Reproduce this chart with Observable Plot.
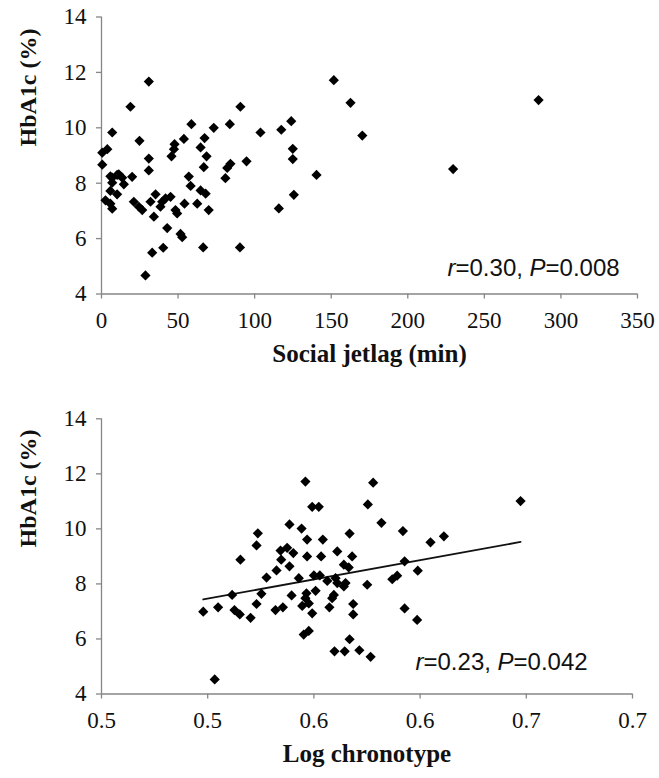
<!DOCTYPE html>
<html><head><meta charset="utf-8">
<script src="https://cdn.jsdelivr.net/npm/d3@7"></script>
<script src="https://cdn.jsdelivr.net/npm/@observablehq/plot@0.6"></script>
<style>
body{margin:0;background:#fff;}
#c{width:659px;}
svg{display:block;}
</style></head><body><div id="c"></div>
<script>
// ---- Top panel: social jetlag (min) vs HbA1c (%) ----
const jetlagMin = [30.9,18.9,90.7,7.0,58.7,73.3,83.8,103.8,24.8,53.8,
  47.7,67.3,64.7,47.3,3.8,0.5,45.7,68.6,30.9,0.5,
  94.7,84.2,82.1,66.8,30.9,11.3,7.0,20.0,57.0,80.9,
  5.8,10.2,13.5,7.0,14.6,58.2,5.8,10.2,35.3,45.1,
  64.7,68.0,2.6,5.8,7.0,21.1,24.4,26.6,32.0,39.6,
  41.8,38.5,48.3,49.4,54.2,62.5,70.0,34.2,42.9,51.6,
  52.7,33.1,40.3,66.4,90.4,28.7,151.7,162.6,123.9,117.4,
  170.3,124.9,124.9,140.4,229.6,125.6,115.8,285.4];
const hba1cTop = [11.67,10.76,10.76,9.83,10.13,10.0,10.13,9.83,9.53,9.6,
  9.41,9.63,9.29,9.23,9.23,9.1,8.97,8.97,8.89,8.67,
  8.79,8.7,8.55,8.58,8.46,8.32,8.2,8.23,8.24,8.18,
  8.25,8.3,8.2,8.02,7.96,7.9,7.72,7.6,7.6,7.51,
  7.74,7.62,7.38,7.26,7.08,7.33,7.15,7.03,7.33,7.33,
  7.45,7.15,7.03,6.91,7.26,7.26,7.03,6.79,6.38,6.17,
  6.05,5.49,5.67,5.68,5.68,4.67,11.72,10.9,10.24,9.93,
  9.72,9.24,8.87,8.3,8.51,7.58,7.09,11.0];

// ---- Bottom panel: log chronotype vs HbA1c (%) ----
const logChrono = [0.5460,0.5492,0.5523,0.5385,0.5442,0.5236,0.5468,0.5542,0.5230,0.5343,
  0.5374,0.5403,0.5154,0.5346,0.5468,0.5534,0.5610,0.5385,0.5324,0.5277,
  0.5641,0.5664,0.5429,0.5500,0.5528,0.5563,0.5602,0.5610,0.5649,0.5641,
  0.5751,0.5115,0.5253,0.5395,0.5465,0.5508,0.5460,0.5476,0.5594,0.5586,
  0.4979,0.5049,0.5126,0.5151,0.5202,0.5230,0.5319,0.5354,0.5445,
  0.5492,0.5573,0.5685,0.5685,0.5452,0.5476,0.5668,0.5597,0.5645,0.5714,0.5767,0.5033,
  0.5779,0.5754,0.6473,0.5818,0.5668,0.5919,0.6049,0.6112,0.5680,0.5927,
  0.5989,0.5869,0.5892,0.5927,0.5986];
const hba1cBottom = [11.72,10.80,10.80,10.16,10.01,9.84,9.61,9.61,9.40,9.21,
  9.31,9.12,8.88,8.88,9.00,9.00,9.18,8.64,8.49,8.23,
  8.70,8.60,8.21,8.31,8.31,8.11,8.21,8.03,8.03,7.91,
  7.97,7.60,7.64,7.58,7.66,7.75,7.48,7.29,7.60,7.48,
  6.99,7.15,7.05,6.89,6.77,7.27,7.05,7.15,7.20,
  6.93,7.15,7.27,6.89,6.16,6.29,5.99,5.55,5.55,5.59,5.35,4.53,
  11.68,10.89,11.01,10.22,9.83,9.92,9.51,9.73,9.00,8.82,
  8.48,8.17,8.30,7.11,6.69];

// ---- Axes / labels ----
const hbTicks = [4,6,8,10,12,14];
const jetlagTicks = [0,50,100,150,200,250,300,350];
const chronoTicks = [0.45,0.5,0.55,0.6,0.65,0.7];
const chronoTickLabels = ["0.5","0.5","0.6","0.6","0.7","0.7"];
const yTitle = "HbA1c (%)";
const topTitle = "Social jetlag (min)";
const bottomTitle = "Log chronotype";
const topStat = {r: "0.30", p: "0.008"};
const bottomStat = {r: "0.23", p: "0.042"};

const serif = "'Liberation Serif','Times New Roman',serif";
const sans = "'Liberation Sans',Arial,sans-serif";

function panel(o) {
  const data = o.xs.map((x, i) => ({x, y: o.ys[i]}));
  const statText = `r=${o.stat.r}, P=${o.stat.p}`;
  const marks = [
    Plot.ruleX([o.xDomain[0]], {stroke: "#868686", strokeWidth: 1.3}),
    Plot.ruleY([hbTicks[0]], {stroke: "#868686", strokeWidth: 1.3}),
    Plot.axisY({ticks: hbTicks, tickSize: 5, tickPadding: 10, stroke: "#868686", strokeWidth: 1.3, fill: "#111",
      fontSize: 23, fontFamily: serif, label: null}),
    Plot.axisX({ticks: o.xTicks, tickFormat: o.xFmt, tickSize: 5, tickPadding: 13, stroke: "#868686", strokeWidth: 1.3,
      fill: "#111", fontSize: 23, fontFamily: serif, label: null}),
    Plot.text([o.xTitle], {frameAnchor: "bottom", dy: o.titleDy, fontSize: 25, fontWeight: "bold",
      fontFamily: serif, fill: "#111"}),
    Plot.text([yTitle], {frameAnchor: "left", dx: -73, dy: -9, rotate: -90, fontSize: 24, fontWeight: "bold",
      fontFamily: serif, fill: "#111"}),
    Plot.text([statText], {frameAnchor: "bottom-left", textAnchor: "start", lineAnchor: "middle",
      dx: o.statDx, dy: o.statDy, fontSize: 24, fontFamily: sans, fill: "#111"})
  ];
  if (o.regression) marks.push(Plot.linearRegressionY(data, {x: "x", y: "y", stroke: "#111", strokeWidth: 1.8, ci: 0}));
  marks.push(Plot.dot(data, {x: "x", y: "y", symbol: "diamond2", r: 4.6, fill: "#000", stroke: "none"}));
  const svg = Plot.plot({
    width: 659, height: 389,
    marginLeft: 101, marginRight: o.marginRight, marginTop: o.marginTop, marginBottom: o.marginBottom,
    x: {domain: o.xDomain},
    y: {domain: [4, 14]},
    style: {background: "#fff", overflow: "visible"},
    marks
  });
  // italic r and P
  svg.querySelectorAll("text").forEach(t => {
    if (t.textContent === statText) {
      const target = t.querySelector("tspan") || t;
      target.textContent = "";
      const parts = [["r", true], [`=${o.stat.r}, `, false], ["P", true], [`=${o.stat.p}`, false]];
      for (const [s, it] of parts) {
        const ts = document.createElementNS("http://www.w3.org/2000/svg", "tspan");
        if (it) ts.setAttribute("font-style", "italic");
        ts.textContent = s;
        target.appendChild(ts);
      }
    }
  });
  return svg;
}

const c = document.getElementById("c");
c.appendChild(panel({
  xs: jetlagMin, ys: hba1cTop, xDomain: [0, 350], xTicks: jetlagTicks, xFmt: d => String(d),
  xTitle: topTitle, titleDy: 68, stat: topStat, statDx: 346, statDy: -26,
  regression: false, marginRight: 22, marginTop: 16.5, marginBottom: 95.5
}));
c.appendChild(panel({
  xs: logChrono, ys: hba1cBottom, xDomain: [0.45, 0.7], xTicks: chronoTicks,
  xFmt: d => chronoTickLabels[chronoTicks.indexOf(d)],
  xTitle: bottomTitle, titleDy: 68, stat: bottomStat, statDx: 314, statDy: -32,
  regression: true, marginRight: 27, marginTop: 29.3, marginBottom: 84.5
}));
</script></body></html>
